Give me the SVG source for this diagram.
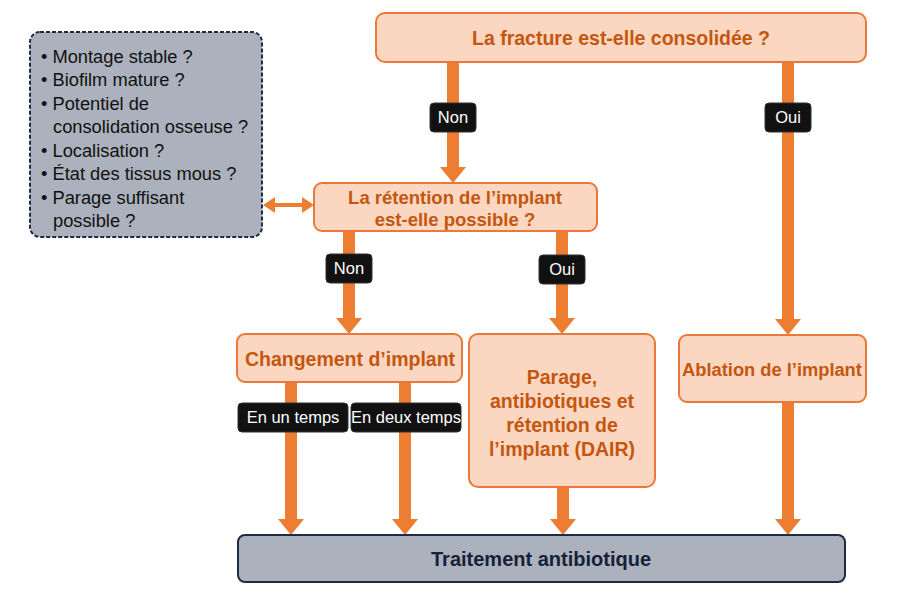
<svg xmlns="http://www.w3.org/2000/svg" width="900" height="600" viewBox="0 0 900 600">
<defs>
<style>
.obox{fill:#fbd6c1;stroke:#e9793a;stroke-width:2}
.gbox{fill:#abb1bd;stroke:#1f2b45;stroke-width:2}
.otxt{font-family:"Liberation Sans",Arial,sans-serif;font-weight:bold;font-size:19.5px;fill:#c4560f;text-anchor:middle}
.gtxt{font-family:"Liberation Sans",Arial,sans-serif;font-size:18.3px;fill:#111}
.btxt{font-family:"Liberation Sans",Arial,sans-serif;font-weight:bold;font-size:20px;fill:#16213a;text-anchor:middle}
.lab{fill:#111;stroke:#333;stroke-width:1}
.ltxt{font-family:"Liberation Sans",Arial,sans-serif;font-size:16.5px;fill:#fff;text-anchor:middle}
.conn{stroke:#ed7d31;stroke-width:12;fill:none;marker-end:url(#ah)}
</style>
<marker id="ah" markerUnits="userSpaceOnUse" viewBox="0 0 16 26" markerWidth="16" markerHeight="26" refX="0" refY="13" orient="auto">
<path d="M0,0 L16,13 L0,26 Z" fill="#ed7d31"/>
</marker>
</defs>
<rect width="900" height="600" fill="#ffffff"/>

<g id="connectors">
<line class="conn" x1="453" y1="62" x2="453" y2="167"/>
<line class="conn" x1="788" y1="62" x2="788" y2="319"/>
<line class="conn" x1="349" y1="231" x2="349" y2="318"/>
<line class="conn" x1="562" y1="231" x2="562" y2="318"/>
<line class="conn" x1="291" y1="382" x2="291" y2="519"/>
<line class="conn" x1="405" y1="382" x2="405" y2="519"/>
<line class="conn" x1="563" y1="487" x2="563" y2="519"/>
<line class="conn" x1="788" y1="402" x2="788" y2="519"/>
<polygon points="263,205 275,197 275,203 302,203 302,197 314,205 302,213 302,207 275,207 275,213" fill="#ed7d31"/>
<g id="lab-non1"><rect class="lab" x="430" y="103" width="46" height="29" rx="4"/><text class="ltxt" x="453" y="123">Non</text></g>
<g id="lab-oui1"><rect class="lab" x="765" y="103" width="46" height="29" rx="4"/><text class="ltxt" x="788" y="123">Oui</text></g>
<g id="lab-non2"><rect class="lab" x="326" y="254" width="46" height="29" rx="4"/><text class="ltxt" x="349" y="274">Non</text></g>
<g id="lab-oui2"><rect class="lab" x="539" y="255" width="46" height="29" rx="4"/><text class="ltxt" x="562" y="275">Oui</text></g>
<g id="lab-un"><rect class="lab" x="238" y="403" width="110" height="29" rx="4"/><text class="ltxt" x="293" y="423">En un temps</text></g>
<g id="lab-deux"><rect class="lab" x="351" y="403" width="110" height="29" rx="4"/><text class="ltxt" x="406" y="423">En deux temps</text></g>
</g>

<g id="q-fracture">
<rect class="obox" x="376" y="13" width="490" height="49" rx="9"/>
<text class="otxt" x="621" y="45">La fracture est-elle consolidée ?</text>
</g>

<g id="criteria">
<rect x="30" y="32" width="232" height="205" rx="10" fill="#abb1bd" stroke="#1f2b45" stroke-width="2" stroke-dasharray="4,2"/>
<text class="gtxt">
<tspan x="41" y="63">• Montage stable ?</tspan>
<tspan x="41" y="86">• Biofilm mature ?</tspan>
<tspan x="41" y="110">• Potentiel de</tspan>
<tspan x="53" y="133">consolidation osseuse ?</tspan>
<tspan x="41" y="157">• Localisation ?</tspan>
<tspan x="41" y="180">• État des tissus mous ?</tspan>
<tspan x="41" y="204">• Parage suffisant</tspan>
<tspan x="53" y="227">possible ?</tspan>
</text>
</g>

<g id="q-retention">
<rect class="obox" x="314" y="183" width="283" height="48" rx="8"/>
<text class="otxt" x="455" y="204" style="font-size:18.5px">La rétention de l’implant</text>
<text class="otxt" x="455" y="226" style="font-size:18.5px">est-elle possible ?</text>
</g>

<g id="changement">
<rect class="obox" x="237" y="334" width="225" height="48" rx="8"/>
<text class="otxt" x="350" y="366">Changement d’implant</text>
</g>

<g id="dair">
<rect class="obox" x="469" y="334" width="186" height="153" rx="9"/>
<text class="otxt" x="562" y="384">Parage,</text>
<text class="otxt" x="562" y="408">antibiotiques et</text>
<text class="otxt" x="562" y="432">rétention de</text>
<text class="otxt" x="562" y="456">l’implant (DAIR)</text>
</g>

<g id="ablation">
<rect class="obox" x="679" y="335" width="187" height="67" rx="8"/>
<text class="otxt" x="772" y="376" style="font-size:18.3px">Ablation de l’implant</text>
</g>

<g id="traitement">
<rect class="gbox" x="238" y="535" width="607" height="47" rx="7"/>
<text class="btxt" x="541" y="566">Traitement antibiotique</text>
</g>
</svg>
